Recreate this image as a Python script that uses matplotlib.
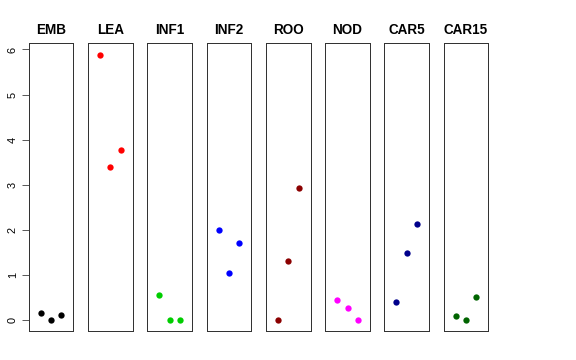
import matplotlib
matplotlib.use("Agg")
import matplotlib.pyplot as plt
import numpy as np

plt.rcParams['font.family'] = ['Liberation Sans', 'DejaVu Sans']

tissues = ["EMB", "LEA", "INF1", "INF2", "ROO", "NOD", "CAR5", "CAR15"]
colors = ["black", "#FF0000", "#00CD00", "#0000FF", "#8B0000", "#FF00FF", "#00008B", "#006400"]

emb = [0.17, 0.0, 0.12]
lea = [5.88, 3.39, 3.77]
inf1 = [0.56, 0.0, 0.0]
inf2 = [2.01, 1.05, 1.71]
roo = [0.0, 1.31, 2.93]
nod = [0.45, 0.27, 0.0]
car5 = [0.40, 1.50, 2.14]
car15 = [0.09, 0.0, 0.51]
values = [emb, lea, inf1, inf2, roo, nod, car5, car15]

W, H = 576, 360
fig = plt.figure(figsize=(W / 72, H / 72), dpi=72)

x0, pitch, pw = 28.7, 59.3, 44.6
ybot, ytop = 331.0, 43.3
ylo, yhi = -0.236, 6.136

for i, (name, vals, col) in enumerate(zip(tissues, values, colors)):
    ax = fig.add_axes([(x0 + i * pitch) / W, (H - ybot) / H, pw / W, (ybot - ytop) / H])
    ax.plot([1, 2, 3], vals, "o", color=col, markersize=6.3, markeredgewidth=0)
    ax.set_xlim(-0.16, 4.16)
    ax.set_ylim(ylo, yhi)
    ax.set_xticks([])
    for s in ax.spines.values():
        s.set_color("#333333")
        s.set_linewidth(1.0)
    ax.set_title(name, fontsize=13.5, fontweight="bold", pad=9)
    if i == 0:
        ax.set_yticks(range(0, 7))
        ax.tick_params(axis="y", direction="out", length=7, width=0.8,
                       labelsize=11, pad=4, colors="#333333", labelcolor="black")
        for lab in ax.get_yticklabels():
            lab.set_rotation(90)
            lab.set_va("center")
    else:
        ax.set_yticks([])

fig.savefig("out.png", dpi=72)
